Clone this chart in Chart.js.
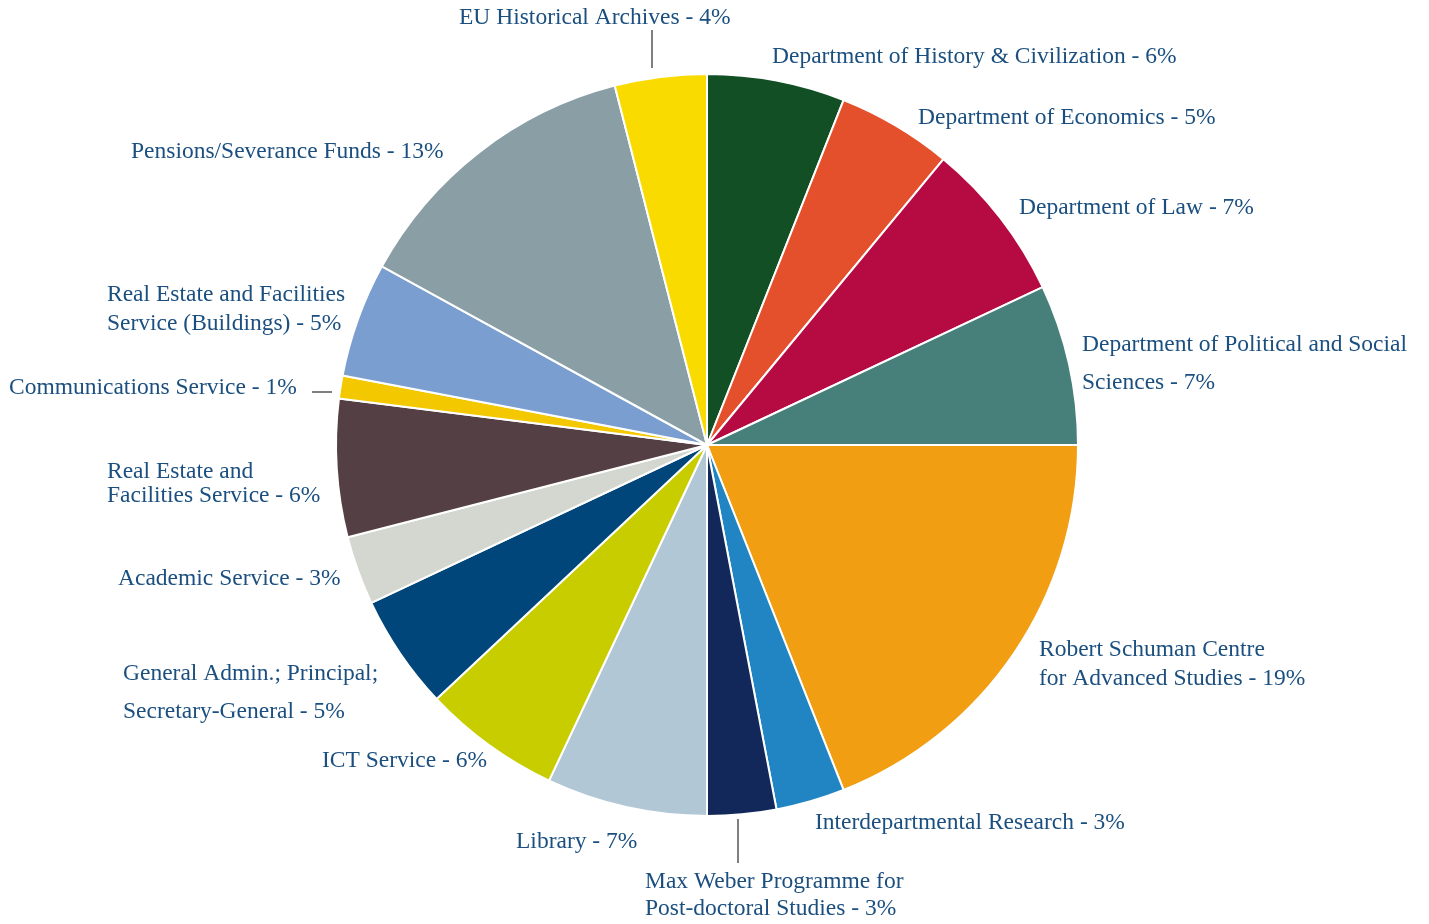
<!DOCTYPE html>
<html>
<head>
<meta charset="utf-8">
<script src="https://cdn.jsdelivr.net/npm/chart.js@4.4.1/dist/chart.umd.min.js"></script>
<style>
  html, body { margin: 0; padding: 0; background: #ffffff; }
  #wrap { width: 1429px; height: 924px; position: relative; }
</style>
</head>
<body>
<div id="wrap"><canvas id="pie" width="1429" height="924"></canvas></div>
<script>
// Budget share by unit, clockwise from 12 o'clock
const units = [
  "Department of History & Civilization",
  "Department of Economics",
  "Department of Law",
  "Department of Political and Social Sciences",
  "Robert Schuman Centre for Advanced Studies",
  "Interdepartmental Research",
  "Max Weber Programme for Post-doctoral Studies",
  "Library",
  "ICT Service",
  "General Admin.; Principal; Secretary-General",
  "Academic Service",
  "Real Estate and Facilities Service",
  "Communications Service",
  "Real Estate and Facilities Service (Buildings)",
  "Pensions/Severance Funds",
  "EU Historical Archives"
];
const shares = [6, 5, 7, 7, 19, 3, 3, 7, 6, 5, 3, 6, 1, 5, 13, 4];
const sliceColors = [
  "#124f24", "#e5502c", "#b50a42", "#477f7a", "#f29e13", "#2185c4",
  "#13285a", "#b2c7d6", "#c8cd00", "#00467a", "#d3d7d0", "#543f44",
  "#f3c800", "#7a9ed0", "#8a9ea6", "#fadb00"
];

// Label text lines per slice (the percentage is filled in from shares)
const labelLines = [
  ["Department of History & Civilization - {p}"],
  ["Department of Economics - {p}"],
  ["Department of Law - {p}"],
  ["Department of Political and Social", "Sciences - {p}"],
  ["Robert Schuman Centre", "for Advanced Studies - {p}"],
  ["Interdepartmental Research - {p}"],
  ["Max Weber Programme for", "Post-doctoral Studies - {p}"],
  ["Library - {p}"],
  ["ICT Service - {p}"],
  ["General Admin.; Principal;", "Secretary-General - {p}"],
  ["Academic Service - {p}"],
  ["Real Estate and", "Facilities Service - {p}"],
  ["Communications Service - {p}"],
  ["Real Estate and Facilities", "Service (Buildings) - {p}"],
  ["Pensions/Severance Funds - {p}"],
  ["EU Historical Archives - {p}"]
];

// Label placement: left x and the middle y of each line
const labelLayout = [
  { x: 772, ys: [57] },
  { x: 918, ys: [118] },
  { x: 1019, ys: [208] },
  { x: 1082, ys: [345, 383] },
  { x: 1039, ys: [650, 679] },
  { x: 815, ys: [823] },
  { x: 645, ys: [882, 909] },
  { x: 516, ys: [842] },
  { x: 322, ys: [761] },
  { x: 123, ys: [674, 712] },
  { x: 118, ys: [579] },
  { x: 107, ys: [472, 496] },
  { x: 9, ys: [388] },
  { x: 107, ys: [295, 324] },
  { x: 131, ys: [152] },
  { x: 459, ys: [18] }
];

// Short leader lines for the labels that sit away from their slice
const leaders = [
  { x1: 652, y1: 30, x2: 652, y2: 68 },
  { x1: 738, y1: 819, x2: 738, y2: 863 },
  { x1: 312, y1: 392, x2: 332, y2: 392 }
];

const labelPlugin = {
  id: "sliceLabels",
  afterDraw(chart) {
    const ctx = chart.ctx;
    ctx.save();
    ctx.fillStyle = "#1b4f7f";
    ctx.font = "23.5px 'Liberation Serif', serif";
    ctx.textAlign = "left";
    ctx.textBaseline = "middle";
    labelLines.forEach((lines, i) => {
      const pos = labelLayout[i];
      lines.forEach((t, j) => {
        ctx.fillText(t.replace("{p}", shares[i] + "%"), pos.x, pos.ys[j]);
      });
    });
    ctx.strokeStyle = "#555555";
    ctx.lineWidth = 1.5;
    leaders.forEach(l => {
      ctx.beginPath();
      ctx.moveTo(l.x1, l.y1);
      ctx.lineTo(l.x2, l.y2);
      ctx.stroke();
    });
    ctx.restore();
  }
};

new Chart(document.getElementById("pie"), {
  type: "pie",
  data: {
    labels: units,
    datasets: [{
      data: shares,
      backgroundColor: sliceColors,
      borderColor: "#ffffff",
      borderWidth: 2
    }]
  },
  options: {
    responsive: false,
    animation: false,
    layout: { padding: { top: 73, bottom: 107, left: 0, right: 15 } },
    plugins: {
      legend: { display: false },
      tooltip: { enabled: false }
    }
  },
  plugins: [labelPlugin]
});
</script>
</body>
</html>
